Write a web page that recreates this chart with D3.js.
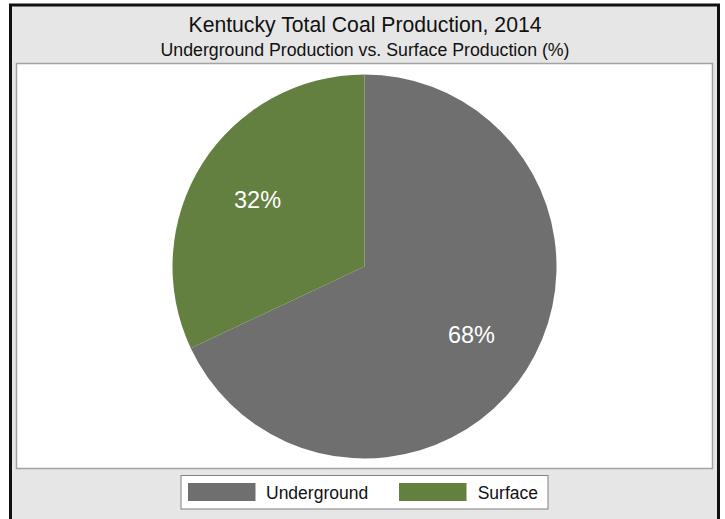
<!DOCTYPE html>
<html>
<head>
<meta charset="utf-8">
<script src="https://cdn.jsdelivr.net/npm/d3@7"></script>
<style>
  html, body { margin: 0; padding: 0; background: #ffffff; }
  svg { display: block; font-family: "Liberation Sans", Arial, sans-serif; }
</style>
</head>
<body>
<svg id="chart" width="725" height="519"></svg>
<script>
// Production share by mining method, Kentucky 2014 (%)
const categories = ["Underground", "Surface"];
const shares = [68, 32];
const colors = ["#6f6f6f", "#648041"];
const titleText = "Kentucky Total Coal Production, 2014";
const subtitleText = "Underground Production vs. Surface Production (%)";

const svg = d3.select("#chart");

// Outer frame
svg.append("rect")
  .attr("x", 10.5).attr("y", 5).attr("width", 708).attr("height", 530)
  .attr("fill", "#e6e6e6").attr("stroke", "#111").attr("stroke-width", 3);

// Titles
svg.append("text")
  .attr("x", 365).attr("y", 31.5)
  .attr("text-anchor", "middle")
  .attr("font-size", 21.5).attr("fill", "#111")
  .attr("textLength", 353).attr("lengthAdjust", "spacingAndGlyphs")
  .text(titleText);

svg.append("text")
  .attr("x", 365).attr("y", 55.7)
  .attr("text-anchor", "middle")
  .attr("font-size", 18).attr("fill", "#111")
  .attr("textLength", 409).attr("lengthAdjust", "spacingAndGlyphs")
  .text(subtitleText);

// Plot panel
svg.append("rect")
  .attr("x", 16.5).attr("y", 63.5).attr("width", 696).attr("height", 405)
  .attr("fill", "#ffffff").attr("stroke", "#a3a3a3").attr("stroke-width", 1.5);

// Pie
const cx = 364.5, cy = 266.5, radius = 192;
const pie = d3.pie().sort(null).value(d => d.value);
const arcs = pie(categories.map((c, i) => ({ name: c, value: shares[i] })));
const arc = d3.arc().innerRadius(0).outerRadius(radius);
const labelArc = d3.arc().innerRadius(radius * 0.66).outerRadius(radius * 0.66);
const color = d3.scaleOrdinal().domain(categories).range(colors);

const g = svg.append("g").attr("transform", `translate(${cx},${cy})`);
g.selectAll("path.slice")
  .data(arcs)
  .join("path")
  .attr("class", "slice")
  .attr("d", arc)
  .attr("fill", d => color(d.data.name));

g.selectAll("text.pct")
  .data(arcs)
  .join("text")
  .attr("class", "pct")
  .attr("transform", d => `translate(${labelArc.centroid(d)})`)
  .attr("dy", 9)
  .attr("text-anchor", "middle")
  .attr("font-size", 23.5)
  .attr("fill", "#ffffff")
  .text(d => d.data.value + "%");

// Legend
const legend = svg.append("g");
legend.append("rect")
  .attr("x", 181).attr("y", 475.5).attr("width", 367).attr("height", 33.5)
  .attr("fill", "#ffffff").attr("stroke", "#808080").attr("stroke-width", 1);

const legendX = [188, 399];
const items = legend.selectAll("g.item")
  .data(categories)
  .join("g")
  .attr("class", "item")
  .attr("transform", (d, i) => `translate(${legendX[i]},483)`);

items.append("rect")
  .attr("width", 67.5).attr("height", 18)
  .attr("fill", d => color(d));

items.append("text")
  .attr("x", (d, i) => i === 0 ? 78 : 78.7)
  .attr("y", 16)
  .attr("font-size", 17.5)
  .attr("fill", "#111")
  .text(d => d);
</script>
</body>
</html>
